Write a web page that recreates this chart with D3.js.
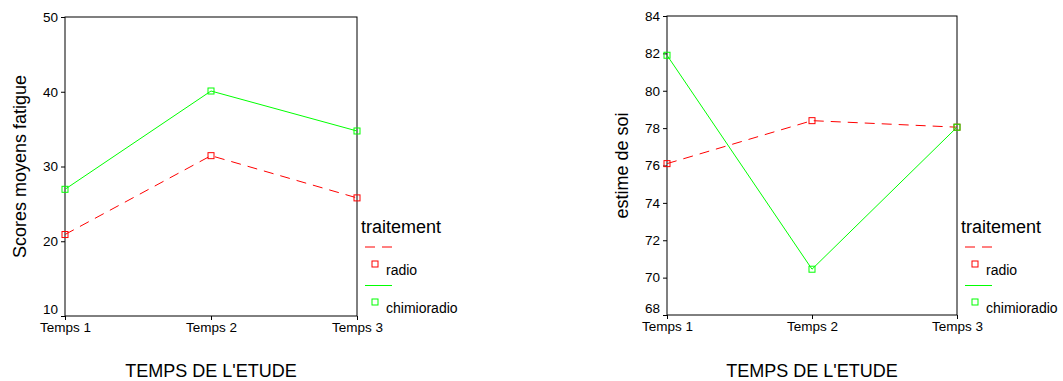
<!DOCTYPE html>
<html>
<head>
<meta charset="utf-8">
<script src="https://cdn.jsdelivr.net/npm/d3@7"></script>
<style>
  body { margin: 0; background: #fff; }
  text { font-family: Arial, "Liberation Sans", sans-serif; fill: #000; }
</style>
</head>
<body>
<svg id="chart" width="1063" height="381"></svg>
<script>
// categories on the x axis
var temps = ["Temps 1", "Temps 2", "Temps 3"];

// left panel: fatigue scores
var fatigueRadio = [20.9, 31.45, 25.8];
var fatigueChimio = [26.95, 40.1, 34.75];
var fatigueTicks = [10, 20, 30, 40, 50];

// right panel: self esteem
var estimeRadio = [76.1, 78.4, 78.05];
var estimeChimio = [81.9, 70.45, 78.05];
var estimeTicks = [68, 70, 72, 74, 76, 78, 80, 82, 84];

var seriesNames = ["radio", "chimioradio"];
var red = "#ff0000", green = "#00ff00";

var svg = d3.select("#chart");

function drawPanel(opts) {
    var g = svg.append("g");

    var x = d3.scalePoint().domain(temps).range([opts.left, opts.right]);
    var y = d3.scaleLinear().domain(opts.domain).range([opts.bottom, opts.top]);

    // frame
    g.append("rect")
        .attr("x", opts.left).attr("y", opts.top)
        .attr("width", opts.right - opts.left)
        .attr("height", opts.bottom - opts.top)
        .attr("fill", "none").attr("stroke", "#000").attr("stroke-width", 1);

    var yAxis = g.append("g")
        .attr("transform", "translate(" + opts.left + ",0)")
        .call(d3.axisLeft(y).tickValues(opts.ticks).tickSize(4).tickSizeOuter(0).tickPadding(3));
    yAxis.select(".domain").remove();
    yAxis.selectAll("text").style("font-size", "13.5px").attr("font-family", null);
    // lowest label is lifted so it clears the category labels
    yAxis.selectAll(".tick")
        .filter(function(d) { return d === opts.domain[0]; })
        .select("text")
        .attr("y", -6.5);

    var xAxis = g.append("g")
        .attr("transform", "translate(0," + opts.bottom + ")")
        .call(d3.axisBottom(x).tickSize(4).tickSizeOuter(0).tickPadding(2));
    xAxis.select(".domain").remove();
    xAxis.selectAll("text").style("font-size", "13.5px").attr("font-family", null);

    var line = d3.line()
        .x(function(d, i) { return x(temps[i]); })
        .y(function(d) { return y(d); });

    var series = [
        {values: opts.radio, color: red, dash: "10,7"},
        {values: opts.chimio, color: green, dash: null}
    ];

    series.forEach(function(s) {
        g.append("path")
            .datum(s.values)
            .attr("d", line)
            .attr("fill", "none")
            .attr("stroke", s.color)
            .attr("stroke-width", 1)
            .attr("stroke-dasharray", s.dash);
    });
    series.forEach(function(s) {
        g.selectAll(null)
            .data(s.values)
            .enter().append("rect")
            .attr("x", function(d, i) { return x(temps[i]) - 3; })
            .attr("y", function(d) { return y(d) - 3; })
            .attr("width", 6).attr("height", 6)
            .attr("fill", "none")
            .attr("stroke", s.color)
            .attr("stroke-width", 1);
    });

    // axis titles
    g.append("text")
        .attr("transform", "translate(" + (opts.left - 39) + "," + ((opts.top + opts.bottom) / 2) + ") rotate(-90)")
        .attr("text-anchor", "middle")
        .style("font-size", "18px")
        .text(opts.yTitle);

    g.append("text")
        .attr("x", (opts.left + opts.right) / 2)
        .attr("y", 377)
        .attr("text-anchor", "middle")
        .style("font-size", "18px")
        .text("TEMPS DE L'ETUDE");

    // legend
    var lx = opts.right + 4;
    g.append("text").attr("x", lx).attr("y", 233).style("font-size", "18px").text("traitement");

    var legendRows = [
        {name: seriesNames[0], color: red, dash: "10,7", lineY: 247, markY: 264, textY: 275},
        {name: seriesNames[1], color: green, dash: null, lineY: 285.5, markY: 302, textY: 313}
    ];
    legendRows.forEach(function(r) {
        g.append("line")
            .attr("x1", lx + 4).attr("x2", lx + 31)
            .attr("y1", r.lineY).attr("y2", r.lineY)
            .attr("stroke", r.color).attr("stroke-width", 1)
            .attr("stroke-dasharray", r.dash);
        g.append("rect")
            .attr("x", lx + 11).attr("y", r.markY - 3)
            .attr("width", 6).attr("height", 6)
            .attr("fill", "none").attr("stroke", r.color).attr("stroke-width", 1);
        g.append("text")
            .attr("x", lx + 25).attr("y", r.textY)
            .style("font-size", "14px")
            .text(r.name);
    });
}

drawPanel({
    left: 65, right: 357, top: 17, bottom: 316,
    domain: [10, 50], ticks: fatigueTicks,
    radio: fatigueRadio, chimio: fatigueChimio,
    yTitle: "Scores moyens fatigue"
});

drawPanel({
    left: 667, right: 957, top: 16, bottom: 315,
    domain: [68, 84], ticks: estimeTicks,
    radio: estimeRadio, chimio: estimeChimio,
    yTitle: "estime de soi"
});
</script>
</body>
</html>
